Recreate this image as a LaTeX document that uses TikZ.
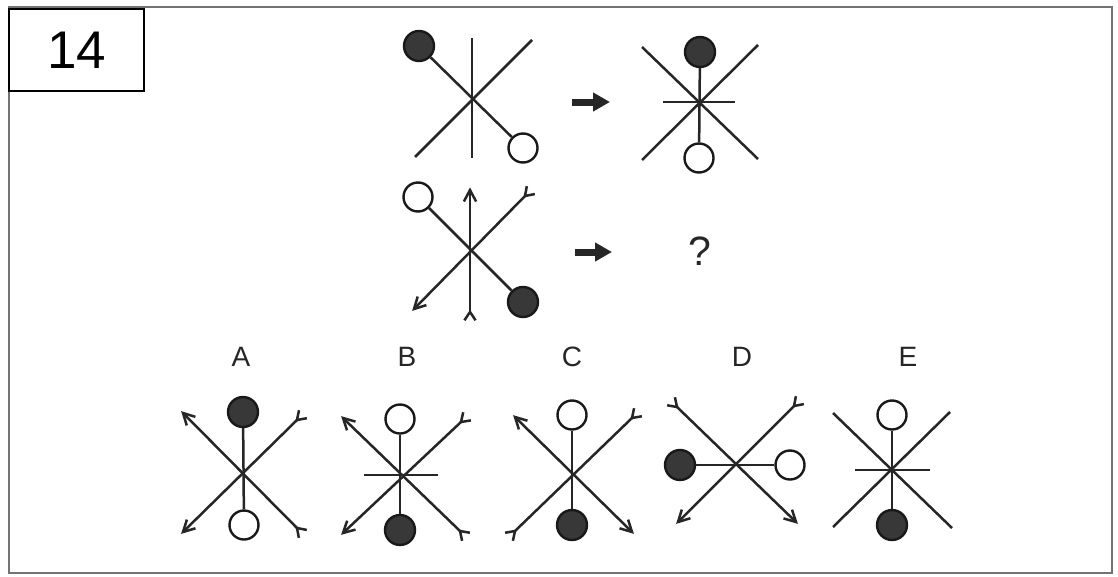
\documentclass[tikz,border=0pt]{standalone}
\usepackage{fontspec}
\setmainfont{Liberation Sans}
\usetikzlibrary{arrows.meta,calc}
\tikzset{
  ln/.style={line width=2.5pt, draw=black!85},
  fdot/.style={circle, draw=black!90, line width=2.4pt, fill=black!78, minimum size=30pt, inner sep=0pt},
  odot/.style={circle, draw=black!90, line width=2.4pt, fill=white, minimum size=29pt, inner sep=0pt},
  bigarrow/.style={line width=7pt, draw=black!85, -{Triangle[length=17pt,width=18pt]}},
  lbl/.style={font=\fontsize{28}{28}\selectfont, text=black!85},
  frame/.style={line width=2pt, draw=black!55},
  numbox/.style={line width=2.4pt, draw=black}
}
% arrowhead at end #1 of a line coming from #2
\newcommand\tiphd[2]{\draw[ln, line join=miter] ($(#1)!13pt!28:(#2)$) -- (#1) -- ($(#1)!13pt!-28:(#2)$);}
% fletching with its vertex at end #1 of a line coming from #2
\newcommand\tipfl[2]{\draw[ln, line join=miter] ($(#1)!10pt!146:(#2)$) -- (#1) -- ($(#1)!10pt!-146:(#2)$);}
\begin{document}
\begin{tikzpicture}[x=1pt,y=-1pt]
\useasboundingbox (0,0) rectangle (1118,576);
\fill[white] (0,0) rectangle (1118,576);
% outer frame and number box
\coordinate (fA) at (9,7);
\coordinate (fB) at (1112,573);
\draw[frame] (fA) rectangle (fB);
\node[numbox, minimum width=135pt, minimum height=82pt, anchor=north west, fill=white,
      font=\fontsize{53}{53}\selectfont] (num) at (8,8) {14};

% ---------- Figure 1 ----------
\coordinate (a1t) at (472,38); \coordinate (a1b) at (472,158);
\coordinate (a1sl) at (415,157); \coordinate (a1sr) at (532,40);
\draw[ln] (a1t) -- (a1b);
\draw[ln] (a1sl) -- (a1sr);
\node[fdot] (a1f) at (419,46) {};
\node[odot] (a1o) at (523,148) {};
\draw[ln] (a1f) -- (a1o);

% arrow 1
\coordinate (ar1s) at (572,102); \coordinate (ar1e) at (610,102);
\draw[bigarrow] (ar1s) -- (ar1e);

% ---------- Figure 2 ----------
\coordinate (a2hl) at (663,102); \coordinate (a2hr) at (735,102);
\coordinate (a2bl1) at (642,47); \coordinate (a2bl2) at (758,159);
\coordinate (a2sl1) at (642,160); \coordinate (a2sl2) at (758,45);
\draw[ln] (a2hl) -- (a2hr);
\draw[ln] (a2bl1) -- (a2bl2);
\draw[ln] (a2sl1) -- (a2sl2);
\node[fdot] (a2f) at (700,52) {};
\node[odot] (a2o) at (699,158) {};
\draw[ln] (a2f) -- (a2o);

% ---------- Figure 3 ----------
\coordinate (b1b) at (470,312); \coordinate (b1t) at (470,190);
\coordinate (b1sl) at (414,309); \coordinate (b1sr) at (525,196);
\draw[ln] (b1b) -- (b1t);
\tipfl{b1b}{b1t} \tiphd{b1t}{b1b}
\draw[ln] (b1sl) -- (b1sr);
\tiphd{b1sl}{b1sr} \tipfl{b1sr}{b1sl}
\node[odot] (b1o) at (418,197) {};
\node[fdot] (b1f) at (523,302) {};
\draw[ln] (b1o) -- (b1f);

% arrow 2
\coordinate (ar2s) at (575,252); \coordinate (ar2e) at (612,252);
\draw[bigarrow] (ar2s) -- (ar2e);
\node[font=\fontsize{41}{41}\selectfont, text=black!85] (q) at (700,251) {?};

% ---------- labels ----------
\node[lbl] (lA) at (241,357) {A};
\node[lbl] (lB) at (407,357) {B};
\node[lbl] (lC) at (572,357) {C};
\node[lbl] (lD) at (742,357) {D};
\node[lbl] (lE) at (908,357) {E};

% ---------- A ----------
\coordinate (Abs1) at (183,413); \coordinate (Abs2) at (297,528);
\coordinate (As1) at (183,532); \coordinate (As2) at (297,420);
\draw[ln] (Abs1) -- (Abs2);
\tiphd{Abs1}{Abs2} \tipfl{Abs2}{Abs1}
\draw[ln] (As1) -- (As2);
\tiphd{As1}{As2} \tipfl{As2}{As1}
\node[fdot] (Af) at (243,412) {};
\node[odot] (Ao) at (244,525) {};
\draw[ln] (Af) -- (Ao);

% ---------- B ----------
\coordinate (Bh1) at (364,475); \coordinate (Bh2) at (438,475);
\coordinate (Bbs1) at (343,418); \coordinate (Bbs2) at (460,531);
\coordinate (Bs1) at (343,533); \coordinate (Bs2) at (461,422);
\draw[ln] (Bh1) -- (Bh2);
\draw[ln] (Bbs1) -- (Bbs2);
\tiphd{Bbs1}{Bbs2} \tipfl{Bbs2}{Bbs1}
\draw[ln] (Bs1) -- (Bs2);
\tiphd{Bs1}{Bs2} \tipfl{Bs2}{Bs1}
\node[odot] (Bo) at (400,419) {};
\node[fdot] (Bf) at (400,530) {};
\draw[ln] (Bo) -- (Bf);

% ---------- C ----------
\coordinate (Cbs1) at (515,417); \coordinate (Cbs2) at (632,532);
\coordinate (Cs1) at (515,531); \coordinate (Cs2) at (632,418);
\draw[ln] (Cbs1) -- (Cbs2);
\tiphd{Cbs1}{Cbs2} \tiphd{Cbs2}{Cbs1}
\draw[ln] (Cs1) -- (Cs2);
\tipfl{Cs1}{Cs2} \tipfl{Cs2}{Cs1}
\node[odot] (Co) at (572,415) {};
\node[fdot] (Cf) at (572,525) {};
\draw[ln] (Co) -- (Cf);

% ---------- D ----------
\coordinate (Dbs1) at (677,407); \coordinate (Dbs2) at (796,522);
\coordinate (Ds1) at (678,522); \coordinate (Ds2) at (794,406);
\draw[ln] (Dbs1) -- (Dbs2);
\tipfl{Dbs1}{Dbs2} \tiphd{Dbs2}{Dbs1}
\draw[ln] (Ds1) -- (Ds2);
\tiphd{Ds1}{Ds2} \tipfl{Ds2}{Ds1}
\node[fdot] (Df) at (680,465) {};
\node[odot] (Do) at (790,465) {};
\draw[ln] (Df) -- (Do);

% ---------- E ----------
\coordinate (Eh1) at (855,470); \coordinate (Eh2) at (930,470);
\coordinate (Ebs1) at (833,413); \coordinate (Ebs2) at (952,528);
\coordinate (Es1) at (833,527); \coordinate (Es2) at (950,412);
\draw[ln] (Eh1) -- (Eh2);
\draw[ln] (Ebs1) -- (Ebs2);
\draw[ln] (Es1) -- (Es2);
\node[odot] (Eo) at (892,415) {};
\node[fdot] (Ef) at (892,525) {};
\draw[ln] (Eo) -- (Ef);
\end{tikzpicture}
\end{document}
